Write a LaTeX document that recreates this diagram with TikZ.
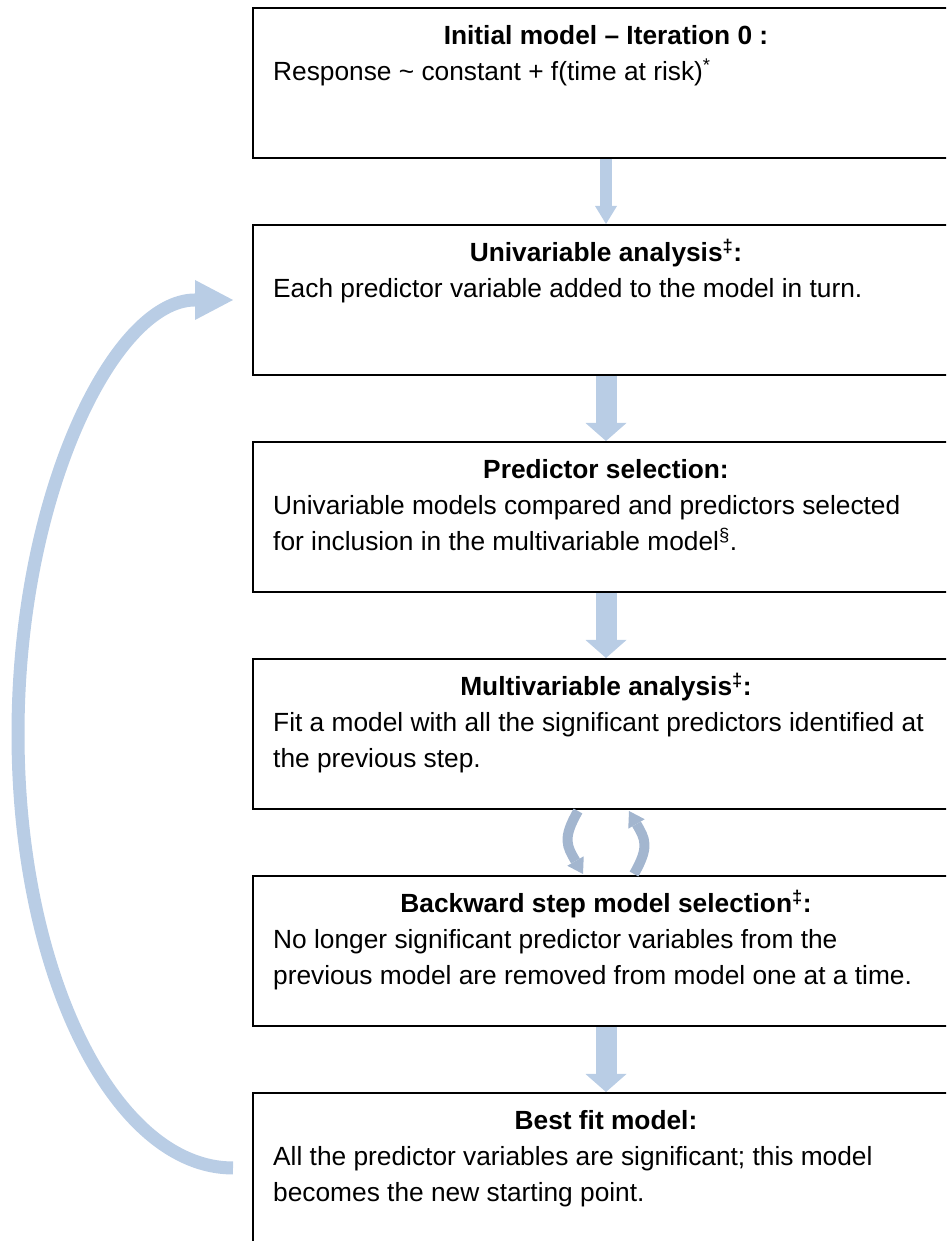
\documentclass[tikz,border=0pt]{standalone}
\usepackage{fontspec}
\setmainfont{Liberation Sans}
\usetikzlibrary{positioning,arrows.meta}
\definecolor{arrowblue}{HTML}{B9CDE5}
\definecolor{turnblue}{HTML}{A3B6CF}

\begin{document}
\begin{tikzpicture}[
    x=1pt, y=1pt,
    every node/.style={font=\fontsize{26.3}{35.5}\selectfont},
    stage/.style={draw, line width=2pt, minimum width=706pt, minimum height=150pt, inner sep=0pt},
    stagetitle/.style={anchor=base, inner sep=0pt, font=\fontsize{26.3}{35.5}\selectfont\bfseries},
    stagetext/.style={anchor=north west, align=left, inner sep=0pt},
    node distance=65pt,
    flow/.style={draw=arrowblue, line width=21pt, -{Triangle[length=18pt,width=41pt,line width=0pt]}},
    thinflow/.style={draw=arrowblue, line width=12pt, -{Triangle[length=18pt,width=22pt,line width=0pt]}},
    turnarrow/.style={draw=turnblue, line width=10pt, -{Triangle[length=15pt,width=19pt,line width=0pt]}},
    loopback/.style={draw=arrowblue, line width=13pt, -{Triangle[length=38pt,width=40pt,line width=0pt]}}]
  \clip (0,0) rectangle (946,1241);

  % the six stages
  \node[stage, anchor=north west] (b1) at (252,1234) {};
  \node[stage, below=of b1] (b2) {};
  \node[stage, below=of b2] (b3) {};
  \node[stage, below=of b3] (b4) {};
  \node[stage, below=of b4] (b5) {};
  \node[stage, below=of b5] (b6) {};

  \node[stagetitle] (h1) at ([yshift=-37.5pt]b1.north) {Initial model – Iteration 0 :};
  \node[stagetext] (t1) at ([xshift=21pt,yshift=-48.5pt]b1.north west)
    {\strut Response \textasciitilde{} constant + f(time at risk)\textsuperscript{*}};
  \node[stagetitle] (h2) at ([yshift=-37.5pt]b2.north) {Univariable analysis\textsuperscript{‡}:};
  \node[stagetext] (t2) at ([xshift=21pt,yshift=-48.5pt]b2.north west)
    {\strut Each predictor variable added to the model in turn.};
  \node[stagetitle] (h3) at ([yshift=-37.5pt]b3.north) {Predictor selection:};
  \node[stagetext] (t3) at ([xshift=21pt,yshift=-48.5pt]b3.north west)
    {\strut Univariable models compared and predictors selected\\
     for inclusion in the multivariable model\textsuperscript{§}.};
  \node[stagetitle] (h4) at ([yshift=-37.5pt]b4.north) {Multivariable analysis\textsuperscript{‡}:};
  \node[stagetext] (t4) at ([xshift=21pt,yshift=-48.5pt]b4.north west)
    {\strut Fit a model with all the significant predictors identified at\\
     the previous step.};
  \node[stagetitle] (h5) at ([yshift=-37.5pt]b5.north) {Backward step model selection\textsuperscript{‡}:};
  \node[stagetext] (t5) at ([xshift=21pt,yshift=-48.5pt]b5.north west)
    {\strut No longer significant predictor variables from the\\
     previous model are removed from model one at a time.};
  \node[stagetitle] (h6) at ([yshift=-37.5pt]b6.north) {Best fit model:};
  \node[stagetext] (t6) at ([xshift=21pt,yshift=-48.5pt]b6.north west)
    {\strut All the predictor variables are significant; this model\\
     becomes the new starting point.};

  % block arrows
  \draw[thinflow] (b1) -- (b2);
  \draw[flow] (b2) -- (b3);
  \draw[flow] (b3) -- (b4);
  \draw[flow] (b5) -- (b6);

  % back and forth between multivariable and backward step
  \coordinate (c1) at ([xshift=-28pt,yshift=-1pt]b4.south);
  \coordinate (c2) at ([xshift=-23pt,yshift=1pt]b5.north);
  \coordinate (c3) at ([xshift=28pt,yshift=1pt]b5.north);
  \coordinate (c4) at ([xshift=23pt,yshift=-1pt]b4.south);
  \draw[turnarrow] (c1) to[out=240,in=120,looseness=1.3] (c2);
  \draw[turnarrow] (c3) to[out=60,in=-60,looseness=1.3] (c4);

  % best fit model feeds back into univariable analysis
  \coordinate (tail) at ([xshift=-19pt,yshift=-76pt]b6.north west);
  \draw[loopback] (tail) arc[start angle=270, end angle=90, x radius=215pt, y radius=434pt];
\end{tikzpicture}
\end{document}
